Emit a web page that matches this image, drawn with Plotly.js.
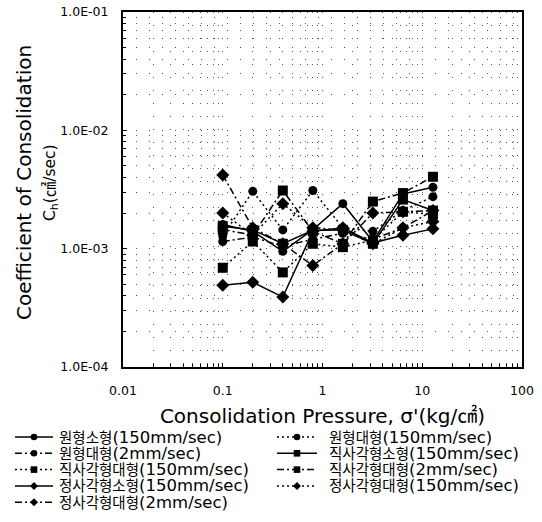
<!DOCTYPE html>
<html>
<head>
<meta charset="utf-8">
<script src="https://cdn.plot.ly/plotly-3.0.1.min.js"></script>
<style>
html,body{margin:0;padding:0;background:#fff;}
#chart{width:542px;height:522px;}
</style>
</head>
<body>
<div id="chart"></div>
<script>
// ---- data ----
const pressure = [0.1, 0.2, 0.4, 0.8, 1.6, 3.2, 6.4, 12.8];
const seriesNames = [
  '원형소형(150mm/sec)', '원형대형(150mm/sec)',
  '원형대형(2mm/sec)', '직사각형소형(150mm/sec)',
  '직사각형대형(150mm/sec)', '직사각형대형(2mm/sec)',
  '정사각형소형(150mm/sec)', '정사각형대형(150mm/sec)',
  '정사각형대형(2mm/sec)'
];
const circleSmall150 = [1.6e-3, 1.4e-3, 9.5e-4, 1.45e-3, 2.4e-3, 1.15e-3, 2.9e-3, 3.3e-3];
const circleLarge150 = [1.28e-3, 3.05e-3, 1.44e-3, 3.1e-3, 1.5e-3, 1.4e-3, 2.1e-3, 2.75e-3];
const circleLarge2 = [1.15e-3, 1.25e-3, 1.05e-3, 1.2e-3, 1.35e-3, 1.2e-3, 1.5e-3, 2.1e-3];
const rectSmall150 = [1.55e-3, 1.44e-3, 1.1e-3, 1.43e-3, 1.44e-3, 1.1e-3, 2.6e-3, 2.1e-3];
const rectLarge150 = [6.9e-4, 1.15e-3, 6.3e-4, 1.1e-3, 1.03e-3, 1.18e-3, 2.05e-3, 1.95e-3];
const rectLarge2 = [1.45e-3, 1.3e-3, 3.1e-3, 1.4e-3, 1.1e-3, 2.5e-3, 2.95e-3, 4.05e-3];
const squareSmall150 = [4.9e-4, 5.2e-4, 3.9e-4, 1.4e-3, 1.5e-3, 1.12e-3, 1.3e-3, 1.47e-3];
const squareLarge150 = [2.0e-3, 1.3e-3, 2.4e-3, 1.5e-3, 1.44e-3, 1.1e-3, 1.5e-3, 1.7e-3];
const squareLarge2 = [4.2e-3, 1.5e-3, 1.1e-3, 7.2e-4, 1.1e-3, 2.0e-3, 2.05e-3, 2.1e-3];
const seriesValues = [circleSmall150, circleLarge150, circleLarge2, rectSmall150,
  rectLarge150, rectLarge2, squareSmall150, squareLarge150, squareLarge2];
const xTickVals = [0.01, 0.1, 1, 10, 100];
const xTickText = ['0.01', '0.1', '1', '10', '100'];
const yTickVals = [1e-4, 1e-3, 1e-2, 1e-1];
const yTickText = ['1.0E-04', '1.0E-03', '1.0E-02', '1.0E-01'];

// ---- styles ----
const DOT = '2px,3px';
const DASHDOT = '7px,3px,2px,3px';
const styles = [
  {dash:'solid', symbol:'circle', size:9},
  {dash:DOT, symbol:'circle', size:9},
  {dash:DASHDOT, symbol:'circle', size:9},
  {dash:'solid', symbol:'square', size:10},
  {dash:DOT, symbol:'square', size:10},
  {dash:DASHDOT, symbol:'square', size:10},
  {dash:'solid', symbol:'diamond', size:10},
  {dash:DOT, symbol:'diamond', size:10},
  {dash:DASHDOT, symbol:'diamond', size:10}
];

const FONT = 'DejaVu Sans, Noto Sans CJK KR, sans-serif';
const W = 542, H = 522, ML = 123, MR = 20, MT = 12, MB = 155;
const PW = W - ML - MR, PH = H - MT - MB;
const px2x = p => (p - ML) / PW;
const py2y = p => (H - MB - p) / PH;

const traces = seriesNames.map((name, i) => ({
  type: 'scatter', mode: 'lines+markers', name: name,
  x: pressure, y: seriesValues[i], showlegend: false,
  line: {color: '#000', width: 1.5, dash: styles[i].dash},
  marker: {color: '#000', symbol: styles[i].symbol, size: styles[i].size}
}));

// ---- custom legend (two columns, row-major) ----
const shapes = [];
const annotations = [];
const colLine = [[15, 53], [277, 317]];
const colText = [58, 328];
const rowY0 = 437, rowH = 16.3;
seriesNames.forEach((name, i) => {
  const c = i % 2;
  const [x0, x1] = colLine[c];
  const y = rowY0 + Math.floor(i / 2) * rowH;
  shapes.push({type:'line', xref:'paper', yref:'paper',
    x0: px2x(x0), x1: px2x(x1), y0: py2y(y), y1: py2y(y),
    line:{color:'#000', width:1.5, dash: styles[i].dash}});
  const cx = px2x((x0 + x1) / 2), cy = py2y(y);
  const base = {xref:'paper', yref:'paper', xsizemode:'pixel', ysizemode:'pixel',
    xanchor: cx, yanchor: cy, fillcolor:'#000', line:{color:'#000', width:0}};
  if (styles[i].symbol === 'circle') {
    shapes.push(Object.assign({type:'circle', x0:-3.3, x1:3.3, y0:-3.3, y1:3.3}, base));
  } else if (styles[i].symbol === 'square') {
    shapes.push(Object.assign({type:'rect', x0:-3.3, x1:3.3, y0:-3.3, y1:3.3}, base));
  } else {
    shapes.push(Object.assign({type:'path', path:'M0,-4 L4,0 L0,4 L-4,0 Z'}, base));
  }
  const k = name.indexOf('(');
  const label = '<span style="font-size:14.5px">' + name.slice(0, k) + '</span>' + name.slice(k);
  annotations.push({xref:'paper', yref:'paper', x: px2x(colText[c]), y: py2y(y),
    xanchor:'left', yanchor:'middle', showarrow:false, text: label, borderpad:0,
    font:{family: FONT, size: 16.5, color:'#000'}});
});

// y axis titles
annotations.push({xref:'paper', yref:'paper', x: px2x(24), y: py2y(183),
  xanchor:'center', yanchor:'middle', showarrow:false, textangle:-90,
  text:'Coefficient of Consolidation', font:{family: FONT, size: 20, color:'#000'}});
annotations.push({xref:'paper', yref:'paper', x: px2x(51), y: py2y(183),
  xanchor:'center', yanchor:'middle', showarrow:false, textangle:-90,
  text:'C<sub>h</sub>(㎠/sec)', font:{family: FONT, size: 15.5, color:'#000'}});

const gridStyle = {showgrid:true, gridcolor:'#555', gridwidth:1, griddash:'1px,12px'};

const layout = {
  width: W, height: H,
  margin: {l: ML, r: MR, t: MT, b: MB, pad: 0},
  paper_bgcolor:'#fff', plot_bgcolor:'#fff',
  showlegend:false,
  font:{family: FONT, color:'#000'},
  xaxis: Object.assign({
    type:'log', range:[-2, 2], tickmode:'array', tickvals: xTickVals, ticktext: xTickText,
    showline:true, linecolor:'#000', linewidth:2, mirror:true, zeroline:false,
    ticks:'inside', ticklen:4, tickcolor:'#000', ticklabelstandoff: 11,
    tickfont:{family: FONT, size: 12.5, color:'#000'},
    minor: Object.assign({dtick:'D1', ticks:'inside', ticklen:3, tickcolor:'#000'}, gridStyle),
    title:{text:"Consolidation Pressure, σ'(kg/㎠)", font:{family: FONT, size: 20, color:'#000'}, standoff: 12}
  }, gridStyle),
  yaxis: Object.assign({
    type:'log', range:[-4, -1], tickmode:'array', tickvals: yTickVals, ticktext: yTickText,
    showline:true, linecolor:'#000', linewidth:2, mirror:true, zeroline:false,
    ticks:'inside', ticklen:4, tickcolor:'#000', ticklabelstandoff: 10,
    tickfont:{family: FONT, size: 12.5, color:'#000'},
    minor: Object.assign({dtick:'D1', ticks:'inside', ticklen:3, tickcolor:'#000'}, gridStyle)
  }, gridStyle),
  shapes: shapes,
  annotations: annotations
};

Plotly.newPlot('chart', traces, layout, {displayModeBar:false, staticPlot:true});
</script>
</body>
</html>
